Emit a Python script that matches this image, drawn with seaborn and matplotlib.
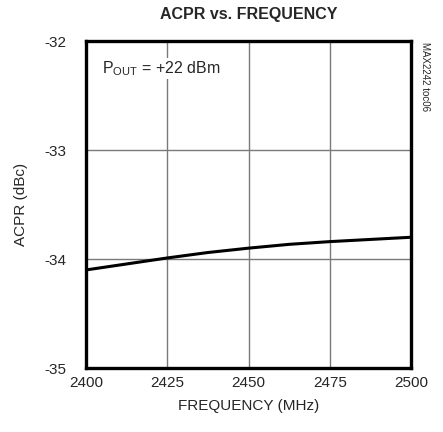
import pandas as pd
import numpy as np
import matplotlib.pyplot as plt
import seaborn as sns

# datos
frecuencia = [2400, 2412.5, 2425, 2437.5, 2450, 2462.5, 2475, 2487.5, 2500]
acpr = [-34.10, -34.045, -33.99, -33.94, -33.90, -33.865, -33.84, -33.82, -33.80]

x_ticks = [2400, 2425, 2450, 2475, 2500]
y_ticks = [-35, -34, -33, -32]

df = pd.DataFrame({"freq": frecuencia, "acpr": acpr})

sns.set_style("white")
plt.rcParams["font.family"] = ["Liberation Sans", "DejaVu Sans"]
plt.rcParams["mathtext.fontset"] = "custom"
plt.rcParams["mathtext.rm"] = "Liberation Sans"

fig = plt.figure(figsize=(4.43, 4.32), dpi=100)
ax = fig.add_axes([0.194, 0.148, 0.734, 0.757])

sns.lineplot(data=df, x="freq", y="acpr", color="black", linewidth=2.2, ax=ax)

ax.set_xlim(2400, 2500)
ax.set_ylim(-35, -32)
ax.set_xticks(x_ticks)
ax.set_yticks(y_ticks)
ax.set_xticklabels([str(t) for t in x_ticks], fontsize=11)
ax.set_yticklabels([str(t) for t in y_ticks], fontsize=11)
ax.tick_params(axis="x", length=0, pad=6)
ax.tick_params(axis="y", length=0, pad=14)
ax.grid(True, color="#7a7a7a", linewidth=1.0)

for s in ax.spines.values():
    s.set_linewidth(2.4)
    s.set_color("black")

ax.set_xlabel("FREQUENCY (MHz)", fontsize=11, labelpad=6)
ax.set_ylabel("ACPR (dBc)", fontsize=11, labelpad=12)
ax.set_title("ACPR vs. FREQUENCY", fontsize=11.5, fontweight="bold", pad=16)

ax.text(2405, -32.25, r"P$_\mathregular{OUT}$ = +22 dBm", fontsize=11.5,
        va="center", ha="left",
        bbox=dict(facecolor="white", edgecolor="none", pad=1))
fig.text(0.96, 0.903, "MAX2242 toc06", rotation=270, fontsize=7,
         ha="center", va="top")

plt.savefig("out.png", dpi=100)
